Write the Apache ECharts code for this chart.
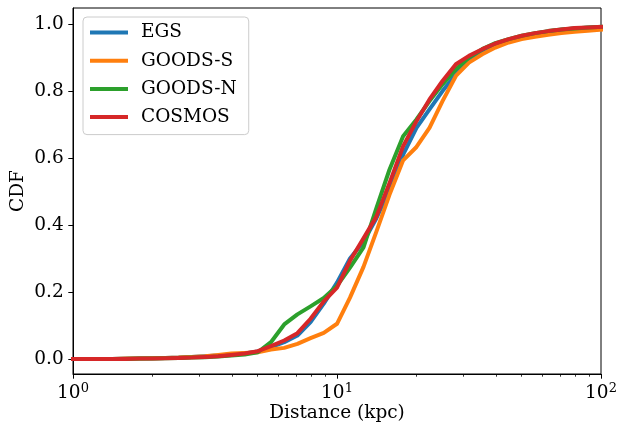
<!DOCTYPE html>
<html>
<head>
<meta charset="utf-8">
<script src="https://cdn.jsdelivr.net/npm/echarts@6/dist/echarts.min.js"></script>
<style>html,body{margin:0;padding:0;background:#fff}#c{width:620px;height:427px}</style>
</head>
<body>
<div id="c"></div>
<script>
const distances = [1, 1.12, 1.26, 1.41, 1.58, 1.78, 2, 2.24, 2.51, 2.82, 3.16, 3.55, 3.98, 4.47, 5.01, 5.62, 6.31, 7.08, 7.94, 8.91, 10, 11.2, 12.6, 14.1, 15.8, 17.8, 20, 22.4, 25.1, 28.2, 31.6, 35.5, 39.8, 44.7, 50.1, 56.2, 63.1, 70.8, 79.4, 89.1, 100];
const egs = [0, 0, 0, 0, 0.001, 0.001, 0.002, 0.003, 0.004, 0.006, 0.008, 0.010, 0.013, 0.016, 0.022, 0.035, 0.050, 0.070, 0.110, 0.165, 0.228, 0.300, 0.350, 0.420, 0.505, 0.610, 0.690, 0.745, 0.800, 0.850, 0.895, 0.920, 0.940, 0.953, 0.963, 0.971, 0.978, 0.983, 0.987, 0.989, 0.991];
const goodsS = [0, 0, 0, 0, 0.001, 0.001, 0.002, 0.003, 0.004, 0.006, 0.008, 0.012, 0.016, 0.018, 0.020, 0.028, 0.033, 0.045, 0.062, 0.078, 0.105, 0.183, 0.275, 0.380, 0.490, 0.593, 0.633, 0.690, 0.770, 0.845, 0.885, 0.910, 0.930, 0.945, 0.955, 0.962, 0.968, 0.973, 0.977, 0.980, 0.983];
const goodsN = [0, 0, 0, 0, 0, 0.001, 0.001, 0.002, 0.003, 0.004, 0.005, 0.007, 0.010, 0.013, 0.020, 0.050, 0.103, 0.133, 0.157, 0.182, 0.218, 0.273, 0.333, 0.450, 0.565, 0.665, 0.715, 0.770, 0.820, 0.865, 0.900, 0.925, 0.943, 0.955, 0.965, 0.973, 0.979, 0.984, 0.987, 0.990, 0.992];
const cosmos = [0, 0, 0, 0, 0, 0.001, 0.001, 0.002, 0.003, 0.004, 0.006, 0.008, 0.012, 0.016, 0.023, 0.038, 0.055, 0.077, 0.120, 0.172, 0.213, 0.293, 0.360, 0.425, 0.525, 0.635, 0.710, 0.775, 0.830, 0.880, 0.905, 0.925, 0.942, 0.955, 0.965, 0.973, 0.979, 0.984, 0.988, 0.990, 0.992];
const seriesNames = ['EGS', 'GOODS-S', 'GOODS-N', 'COSMOS'];
const seriesValues = [egs, goodsS, goodsN, cosmos];
const colors = ['#1f77b4', '#ff7f0e', '#2ca02c', '#d62728'];
const xMajorTicks = [1, 10, 100];
const xMinorTicks = [2, 3, 4, 5, 6, 7, 8, 9, 20, 30, 40, 50, 60, 70, 80, 90];
const yTicks = [0, 0.2, 0.4, 0.6, 0.8, 1.0];

const FONT = 'DejaVu Serif';
const FS = 18.5;
const chart = echarts.init(document.getElementById('c'), null, {renderer: 'canvas'});

const series = seriesNames.map((name, i) => ({
  name: name,
  type: 'line',
  xAxisIndex: 0,
  yAxisIndex: 0,
  data: distances.map((d, j) => [d, seriesValues[i][j]]),
  showSymbol: false,
  symbol: 'none',
  color: colors[i],
  lineStyle: {width: 4, color: colors[i], cap: 'square', join: 'round'},
  z: 2 + i,
  animation: false
}));

chart.setOption({
  animation: false,
  backgroundColor: '#fff',
  textStyle: {fontFamily: FONT},
  grid: {left: 73, right: 19, top: 8, bottom: 53, containLabel: false, outerBoundsMode: 'none', show: true, borderColor: '#000', borderWidth: 1, backgroundColor: 'transparent'},
  legend: {
    data: seriesNames,
    orient: 'vertical',
    left: 83,
    top: 17,
    icon: 'rect',
    itemWidth: 38,
    itemHeight: 4,
    itemGap: 9.2,
    padding: [6, 12, 8, 7],
    borderColor: '#cccccc',
    borderWidth: 1,
    borderRadius: 4,
    backgroundColor: 'rgba(255,255,255,0.8)',
    textStyle: {fontFamily: FONT, fontSize: FS, color: '#000', lineHeight: 18.6, padding: [0, 0, 0, 8]},
    z: 10
  },
  xAxis: [{
    type: 'log',
    logBase: 10,
    min: 1,
    max: 100,
    name: 'Distance (kpc)',
    nameLocation: 'middle',
    nameGap: 30,
    nameMoveOverlap: false,
    nameTextStyle: {fontFamily: FONT, fontSize: FS, color: '#000', verticalAlign: 'top'},
    axisLine: {show: true, onZero: false, lineStyle: {color: '#000', width: 1}},
    axisTick: {show: true, inside: false, length: 4.7, lineStyle: {color: '#000', width: 1}, customValues: xMajorTicks},
    axisLabel: {
      show: true,
      margin: 8,
      customValues: xMajorTicks,
      formatter: function (v) { return '{b|10}{e|' + Math.round(Math.log10(v)) + '}'; },
      rich: {
        b: {fontFamily: FONT, fontSize: FS, color: '#000', lineHeight: 22},
        e: {fontFamily: FONT, fontSize: 13, color: '#000', verticalAlign: 'top', lineHeight: 13}
      }
    },
    splitLine: {show: false}
  }, {
    type: 'log',
    logBase: 10,
    min: 1,
    max: 100,
    position: 'bottom',
    axisLine: {show: false, onZero: false},
    axisTick: {show: true, inside: false, length: 2.7, lineStyle: {color: '#000', width: 0.8}, customValues: xMinorTicks},
    axisLabel: {show: false},
    splitLine: {show: false}
  }],
  yAxis: {
    type: 'value',
    min: -0.045,
    max: 1.048,
    name: 'CDF',
    nameLocation: 'middle',
    nameGap: 45,
    nameMoveOverlap: false,
    nameRotate: 90,
    nameTextStyle: {fontFamily: FONT, fontSize: FS, color: '#000'},
    axisLine: {show: true, onZero: false, lineStyle: {color: '#000', width: 1}},
    axisTick: {show: true, inside: false, length: 4.7, lineStyle: {color: '#000', width: 1}, customValues: yTicks},
    axisLabel: {show: true, margin: 9.3, customValues: yTicks, fontFamily: FONT, fontSize: FS, color: '#000', formatter: function (v) { return v.toFixed(1); }},
    splitLine: {show: false}
  },
  series: series
});
</script>
</body>
</html>
